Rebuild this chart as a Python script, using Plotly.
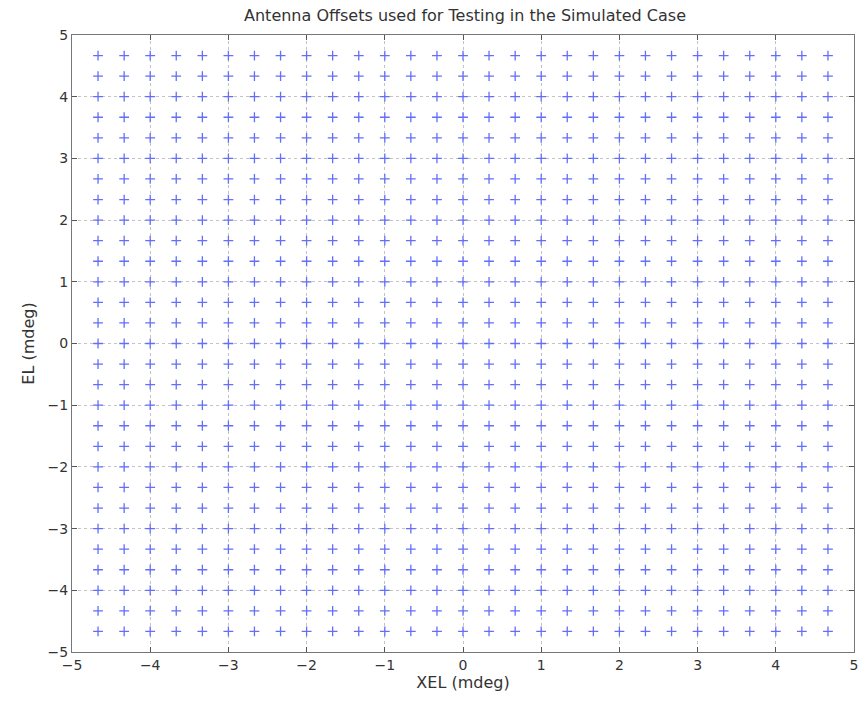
import plotly.graph_objects as go

# Cross-elevation and elevation offsets (mdeg) of the test grid
xel_offsets = [-4.667, -4.333, -4.0, -3.667, -3.333, -3.0, -2.667, -2.333, -2.0,
               -1.667, -1.333, -1.0, -0.667, -0.333, 0.0, 0.333, 0.667, 1.0,
               1.333, 1.667, 2.0, 2.333, 2.667, 3.0, 3.333, 3.667, 4.0, 4.333, 4.667]
el_offsets = [-4.667, -4.333, -4.0, -3.667, -3.333, -3.0, -2.667, -2.333, -2.0,
              -1.667, -1.333, -1.0, -0.667, -0.333, 0.0, 0.333, 0.667, 1.0,
              1.333, 1.667, 2.0, 2.333, 2.667, 3.0, 3.333, 3.667, 4.0, 4.333, 4.667]
tick_values = [-5, -4, -3, -2, -1, 0, 1, 2, 3, 4, 5]

xs = [x for y in el_offsets for x in xel_offsets]
ys = [y for y in el_offsets for x in xel_offsets]

FONT = "DejaVu Sans, Verdana, sans-serif"

fig = go.Figure(go.Scatter(
    x=xs, y=ys, mode="markers",
    marker=dict(symbol="cross-thin-open", size=7,
                line=dict(color="rgb(95,95,220)", width=1.3)),
    hoverinfo="x+y",
))

axis_common = dict(
    tickvals=tick_values,
    ticktext=[str(v).replace("-", "\u2212") for v in tick_values],
    ticks="inside", ticklen=5, tickcolor="#555",
    showline=True, linecolor="#777", linewidth=1.3, mirror="ticks",
    showgrid=True, gridcolor="#c4c4c4", griddash="dot", gridwidth=1,
    zeroline=False,
    tickfont=dict(family=FONT, size=14, color="#333"),
    title_font=dict(family=FONT, size=16, color="#333"),
)

fig.update_xaxes(range=[-5, 5], title_text="XEL (mdeg)", title_standoff=4, **axis_common)
fig.update_yaxes(range=[-5, 5], title_text="EL (mdeg)", title_standoff=8, **axis_common)

fig.update_layout(
    width=866, height=702,
    margin=dict(l=72, r=8, t=35, b=50),
    paper_bgcolor="white", plot_bgcolor="white",
    showlegend=False,
    title=dict(text="Antenna Offsets used for Testing in the Simulated Case",
               x=(72 + 858) / 2 / 866, xanchor="center", y=1 - 15 / 702, yanchor="middle",
               font=dict(family=FONT, size=16, color="#333")),
)

fig.write_html("out.html")
